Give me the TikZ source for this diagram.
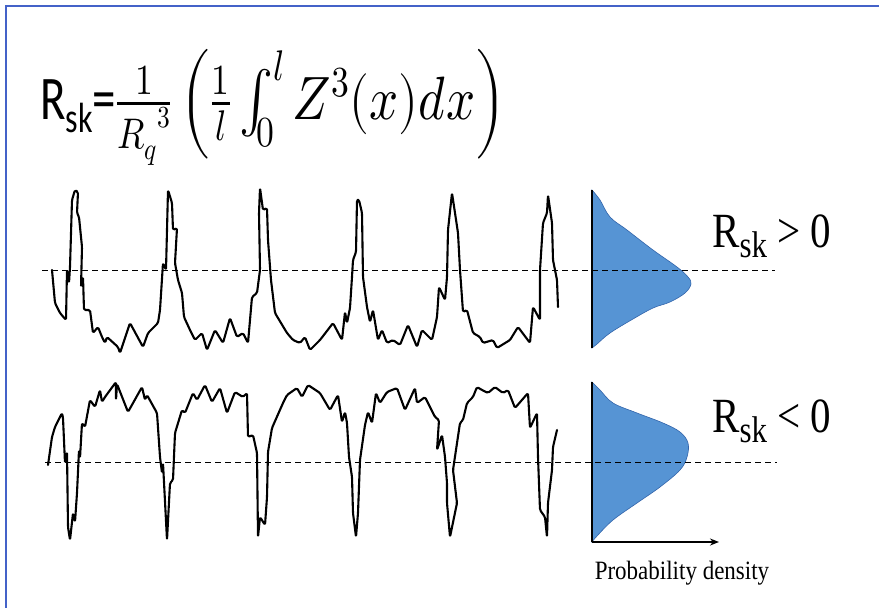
\documentclass[tikz,border=0pt]{standalone}
\usepackage{fontspec}
\usepackage{unicode-math}
\setmainfont{Liberation Serif}
\setmathfont{Latin Modern Math}
\newfontfamily\calibri{Carlito}
\usetikzlibrary{arrows.meta}
\definecolor{frameblue}{RGB}{68,98,200}
\definecolor{densblue}{RGB}{86,148,212}
\definecolor{densline}{RGB}{50,100,170}
\tikzset{
	profile/.style={line width=2.1pt,line join=round,line cap=round,rounded corners=1.5pt},
	meanline/.style={line width=0.9pt,dash pattern=on 6pt off 4pt},
	dens/.style={fill=densblue,draw=densline,line width=0.6pt},
	axisline/.style={line width=2pt}
}
\begin{document}
\begin{tikzpicture}[x=1pt,y=-1pt]
	\useasboundingbox (0,0) rectangle (879,608);
	
	%Frame
	\draw[frameblue,line width=2pt] (6,608)--(6,6)--(879,6);
	
	%Formula
	\node[anchor=base west,inner sep=0pt] at (40,119) (formula) {\scalebox{1}[1.2]{{\calibri\scalebox{1}[1.1]{\fontsize{47}{52}\selectfont R\raisebox{-0.22em}{\fontsize{32}{32}\selectfont sk}=}}\fontsize{51}{56}\selectfont$\textstyle\frac{1}{{R_q}^{3}}\,\Big(\frac{1}{l}\int_0^l Z^3(x)dx\Big)$}};
	
	%Mean lines
	\coordinate (m1a) at (42,270);
	\coordinate (m1b) at (775,270);
	\coordinate (m2a) at (45,462);
	\coordinate (m2b) at (777,462);
	\draw[meanline] (m1a)--(m1b);
	\draw[meanline] (m2a)--(m2b);
	
	%Profile Rsk>0
	\draw[profile] (52,270)--(55,303)--(60,313)--(66,320)--(67,270)--(69,283)--(70,267)--(72,200)--(75,190)--(78,192)--(77,213)--(79,217)--(82,247)--(81,287)--(83,277)--(84,310)--(90,310)--(93,333)--(98,327)--(102,337)--(105,343)--(107,337)--(118,347)--(120,353)--(130,323)--(143,347)--(148,333)--(158,323)--(160,310)--(163,263)--(166,270)--(168,190)--(172,203)--(173,230)--(177,228)--(175,263)--(178,280)--(182,293)--(184,317)--(190,330)--(195,340)--(202,333)--(207,350)--(215,330)--(223,343)--(230,318)--(237,337)--(243,333)--(248,343)--(252,297)--(257,293)--(260,270)--(259,213)--(260,188)--(263,210)--(267,208)--(268,240)--(271,280)--(275,313)--(287,333)--(293,340)--(300,343)--(305,337)--(310,350)--(320,340)--(330,327)--(333,323)--(342,340)--(345,312)--(347,323)--(350,308)--(352,277)--(353,260)--(356,252)--(357,200)--(359,200)--(362,213)--(363,277)--(367,307)--(370,322)--(373,310)--(378,340)--(382,330)--(387,343)--(393,340)--(400,345)--(408,325)--(417,347)--(422,330)--(432,340)--(437,317)--(439,287)--(445,300)--(447,277)--(448,230)--(452,193)--(455,213)--(458,233)--(460,270)--(463,312)--(467,310)--(473,333)--(480,337)--(483,343)--(493,340)--(497,348)--(510,340)--(518,327)--(530,343)--(533,307)--(540,320)--(540,270)--(543,223)--(547,213)--(548,195)--(552,223)--(553,260)--(557,280)--(558,307);
	
	%Profile Rsk<0
	\draw[profile] (48,465)--(52,437)--(55,427)--(62,413)--(63,418)--(65,463)--(67,452)--(68,527)--(70,540)--(73,513)--(75,522)--(77,493)--(79,450)--(80,458)--(82,423)--(85,427)--(90,400)--(95,407)--(100,390)--(102,402)--(105,397)--(116,382)--(116,400)--(117,384)--(128,412)--(142,387)--(145,400)--(147,395)--(157,413)--(160,457)--(162,473)--(163,463)--(167,540)--(170,483)--(173,480)--(175,433)--(182,410)--(185,413)--(193,393)--(197,400)--(205,385)--(212,402)--(220,388)--(227,413)--(235,392)--(243,397)--(247,393)--(248,437)--(253,435)--(257,453)--(258,537)--(260,517)--(265,525)--(267,497)--(268,452)--(272,428)--(283,403)--(287,395)--(297,388)--(302,397)--(308,385)--(320,393)--(330,410)--(338,395)--(342,422)--(345,412)--(347,423)--(349,457)--(352,477)--(353,513)--(356,537)--(358,513)--(360,460)--(365,425)--(368,412)--(372,423)--(376,393)--(380,403)--(387,392)--(397,388)--(405,410)--(415,388)--(417,403)--(425,397)--(435,417)--(439,420)--(437,450)--(442,435)--(445,457)--(447,483)--(447,503)--(450,537)--(457,503)--(453,470)--(460,423)--(463,420)--(467,403)--(473,397)--(477,387)--(482,390)--(488,393)--(495,387)--(503,393)--(508,390)--(515,408)--(528,393)--(530,428)--(537,413)--(538,457)--(540,510)--(545,517)--(547,537)--(548,503)--(552,470)--(553,447)--(557,430);
	
	%Density Rsk>0
	\coordinate (d1top) at (592,190);
	\coordinate (d1bot) at (592,348);
	\fill[dens] (d1top) plot[smooth,tension=0.6] coordinates {(592,190) (600,200) (610,217) (627,230) (653,250) (677,267) (688,277) (691,284) (685,293) (670,302) (653,308) (633,319) (610,333) (597,344) (592,348)} -- cycle;
	\draw[axisline] (d1top)--(d1bot);
	
	%Density Rsk<0
	\coordinate (d2top) at (592,382);
	\coordinate (d2bot) at (592,542);
	\coordinate (d2end) at (719,542);
	\fill[dens] (d2top) plot[smooth,tension=0.6] coordinates {(592,382) (600,390) (613,403) (637,413) (663,423) (680,432) (688,443) (687,457) (680,470) (660,487) (637,503) (613,520) (597,536) (592,542)} -- cycle;
	\draw[axisline] (d2top)--(d2bot);
	\draw[axisline,-{Stealth[length=9pt,width=7pt]}] (d2bot)--(d2end);
	
	%Dashes over the densities
	\draw[meanline] (m1a)--(m1b);
	\draw[meanline] (m2a)--(m2b);
	
	%Labels
	\node[anchor=base west,inner sep=0pt] at (712,247) (pos) {\scalebox{1}[1.2]{\fontsize{41}{43}\selectfont R\raisebox{-0.22em}{\fontsize{31}{32}\selectfont sk} > 0}};
	\node[anchor=base west,inner sep=0pt] at (712,432) (neg) {\scalebox{1}[1.2]{\fontsize{41}{43}\selectfont R\raisebox{-0.22em}{\fontsize{31}{32}\selectfont sk} < 0}};
	\node[anchor=base,inner sep=0pt] at (682,579) (pdens) {\scalebox{1}[1.15]{\fontsize{23}{25}\selectfont Probability density}};
	
\end{tikzpicture}
\end{document}
